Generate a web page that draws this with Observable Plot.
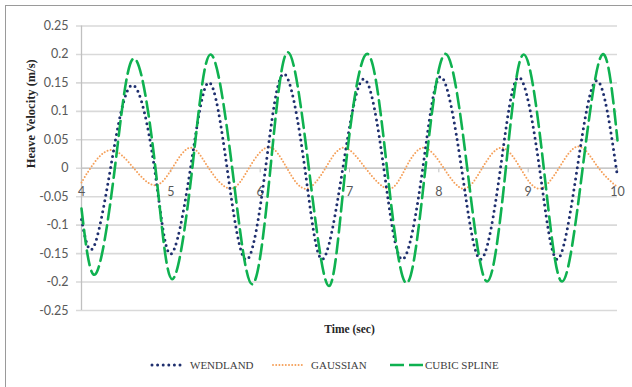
<!DOCTYPE html>
<html>
<head>
<meta charset="utf-8">
<script src="https://cdn.jsdelivr.net/npm/d3@7"></script>
<script src="https://cdn.jsdelivr.net/npm/@observablehq/plot@0.6"></script>
<style>
  html, body { margin: 0; padding: 0; background: #fff; }
  #wrap { position: relative; width: 632px; height: 387px; overflow: hidden; }
  #frame { position: absolute; left: 5px; top: 5px; width: 640px; height: 400px;
           border-left: 1px solid #9a9a9a; border-top: 1.5px solid #9a9a9a; }
  #chart { position: absolute; left: 0; top: 0; }
  .leg { position: absolute; top: 358px; font-family: "Liberation Serif", "Times New Roman", serif;
         font-size: 11px; color: #404040; line-height: 14px; white-space: nowrap; }
  .sw { position: absolute; top: 359px; }
</style>
</head>
<body>
<div id="wrap">
  <div id="frame"></div>
  <div id="chart"></div>
</div>
<script>
// ---- data ----
const xTicks = [4, 5, 6, 7, 8, 9, 10];
const yTicks = [-0.25, -0.2, -0.15, -0.1, -0.05, 0, 0.05, 0.1, 0.15, 0.2, 0.25];
const yTickLabels = ["-0.25", "-0.2", "-0.15", "-0.1", "-0.05", "0", "0.05", "0.1", "0.15", "0.2", "0.25"];
const seriesNames = ["WENDLAND", "GAUSSIAN", "CUBIC SPLINE"];

const wendlandT = [4.00, 4.13, 4.325, 4.567, 4.817, 4.996, 5.22, 5.425, 5.63, 5.843, 6.06, 6.265, 6.50, 6.694, 6.925, 7.16, 7.384, 7.59, 7.82, 8.02, 8.254, 8.467, 8.69, 8.895, 9.127, 9.325, 9.549, 9.773, 10.0];
const wendlandV = [-0.09, -0.14, 0, 0.146, 0, -0.151, 0, 0.151, 0, -0.161, 0, 0.166, 0, -0.16, 0, 0.157, 0, -0.16, 0, 0.161, 0, -0.16, 0, 0.16, 0, -0.16, 0, 0.154, -0.015];

const gaussianT = [4.00, 4.10, 4.325, 4.585, 4.82, 5.015, 5.22, 5.425, 5.668, 5.873, 6.097, 6.30, 6.51, 6.73, 6.936, 7.18, 7.44, 7.627, 7.83, 8.056, 8.28, 8.485, 8.70, 8.914, 9.12, 9.343, 9.567, 9.79, 10.0];
const gaussianV = [-0.025, 0, 0.032, 0, -0.03, 0, 0.036, 0, -0.036, 0, 0.037, 0, -0.036, 0, 0.036, 0, -0.036, 0, 0.036, 0, -0.036, 0, 0.036, 0, -0.036, 0, 0.038, 0, -0.033];

const cubicT = [4.00, 4.157, 4.373, 4.586, 4.828, 5.015, 5.24, 5.444, 5.687, 5.91, 6.115, 6.31, 6.545, 6.77, 6.955, 7.198, 7.42, 7.638, 7.85, 8.075, 8.318, 8.54, 8.75, 8.95, 9.175, 9.38, 9.61, 9.83, 10.0];
const cubicV = [-0.071, -0.186, 0, 0.193, 0, -0.195, 0, 0.2, 0, -0.204, 0, 0.204, 0, -0.207, 0, 0.201, 0, -0.202, 0, 0.201, 0, -0.199, 0, 0.2, 0, -0.199, 0, 0.2, 0.049];

// ---- styles ----
const colors = { "WENDLAND": "#1f2f6e", "GAUSSIAN": "#f5a05a", "CUBIC SPLINE": "#0fb150" };

const toRows = (ts, vs) => ts.map((t, i) => ({ t, v: vs[i] }));
const wendland = toRows(wendlandT, wendlandV);
const gaussian = toRows(gaussianT, gaussianV);
const cubic = toRows(cubicT, cubicV);

const chart = Plot.plot({
  width: 632,
  height: 345,
  marginLeft: 81,
  marginRight: 15,
  marginTop: 25.5,
  marginBottom: 35,
  x: { domain: [4, 10], axis: null },
  y: { domain: [-0.25, 0.25], axis: null },
  style: { fontFamily: "Lato, 'Open Sans', sans-serif", fontSize: "12px", color: "#595959", background: "transparent", overflow: "visible" },
  marks: [
    Plot.ruleY(yTicks, { stroke: "#d9d9d9", strokeWidth: 1.6, insetLeft: -5 }),
    Plot.ruleX([4], { stroke: "#c0c0c0", strokeWidth: 1.3 }),
    Plot.ruleY([0], { stroke: "#c8c8c8", strokeWidth: 1.3 }),
    Plot.ruleX(xTicks, { x: d => d, y1: 0, y2: -0.008, stroke: "#c0c0c0" }),
    Plot.text(xTicks, { x: d => d, y: 0, dy: 24, text: d => String(d), fill: "#595959", fontSize: 12.5 }),
    Plot.axisY(yTicks, { tickSize: 0, tickPadding: 13, tickFormat: d => yTickLabels[yTicks.indexOf(d)], label: null, fontSize: 12.5, fill: "#595959" }),
    Plot.line(gaussian, { x: "t", y: "v", curve: "natural", stroke: colors["GAUSSIAN"], strokeWidth: 2, strokeDasharray: "0 3.2", strokeLinecap: "round" }),
    Plot.line(wendland, { x: "t", y: "v", curve: "natural", stroke: colors["WENDLAND"], strokeWidth: 3, strokeDasharray: "0 5.6", strokeLinecap: "round" }),
    Plot.line(cubic, { x: "t", y: "v", curve: "natural", stroke: colors["CUBIC SPLINE"], strokeWidth: 2.6, strokeDasharray: "15 6" }),
    Plot.text(["Heave Velocity (m/s)"], { frameAnchor: "left", dx: -51, rotate: -90, text: d => d, fontWeight: "bold", fontFamily: "'Liberation Serif', 'Times New Roman', serif", fontSize: 12.5, fill: "#262626" }),
    Plot.text(["Time (sec)"], { frameAnchor: "bottom", dy: 22, text: d => d, fontWeight: "bold", fontFamily: "'Liberation Serif', 'Times New Roman', serif", fontSize: 11.5, fill: "#262626" })
  ]
});
document.getElementById("chart").appendChild(chart);

// ---- legend (HTML below the plot) ----
const wrap = document.getElementById("wrap");
const legendLayout = [
  { name: seriesNames[0], sx: 150, sw: 34, tx: 190, dash: "0 5.6", width: 3, cap: "round" },
  { name: seriesNames[1], sx: 271, sw: 32, tx: 311, dash: "0 3.2", width: 2, cap: "round" },
  { name: seriesNames[2], sx: 388, sw: 36, tx: 425, dash: "14 5", width: 2.6, cap: "butt" }
];
legendLayout.forEach(l => {
  const ns = "http://www.w3.org/2000/svg";
  const s = document.createElementNS(ns, "svg");
  s.setAttribute("width", l.sw);
  s.setAttribute("height", 12);
  s.setAttribute("class", "sw");
  s.style.left = l.sx + "px";
  const ln = document.createElementNS(ns, "line");
  ln.setAttribute("x1", 2); ln.setAttribute("x2", l.sw - 1);
  ln.setAttribute("y1", 6); ln.setAttribute("y2", 6);
  ln.setAttribute("stroke", colors[l.name]);
  ln.setAttribute("stroke-width", l.width);
  ln.setAttribute("stroke-dasharray", l.dash);
  ln.setAttribute("stroke-linecap", l.cap);
  s.appendChild(ln);
  wrap.appendChild(s);
  const t = document.createElement("div");
  t.className = "leg";
  t.style.left = l.tx + "px";
  t.textContent = l.name;
  wrap.appendChild(t);
});
</script>
</body>
</html>
